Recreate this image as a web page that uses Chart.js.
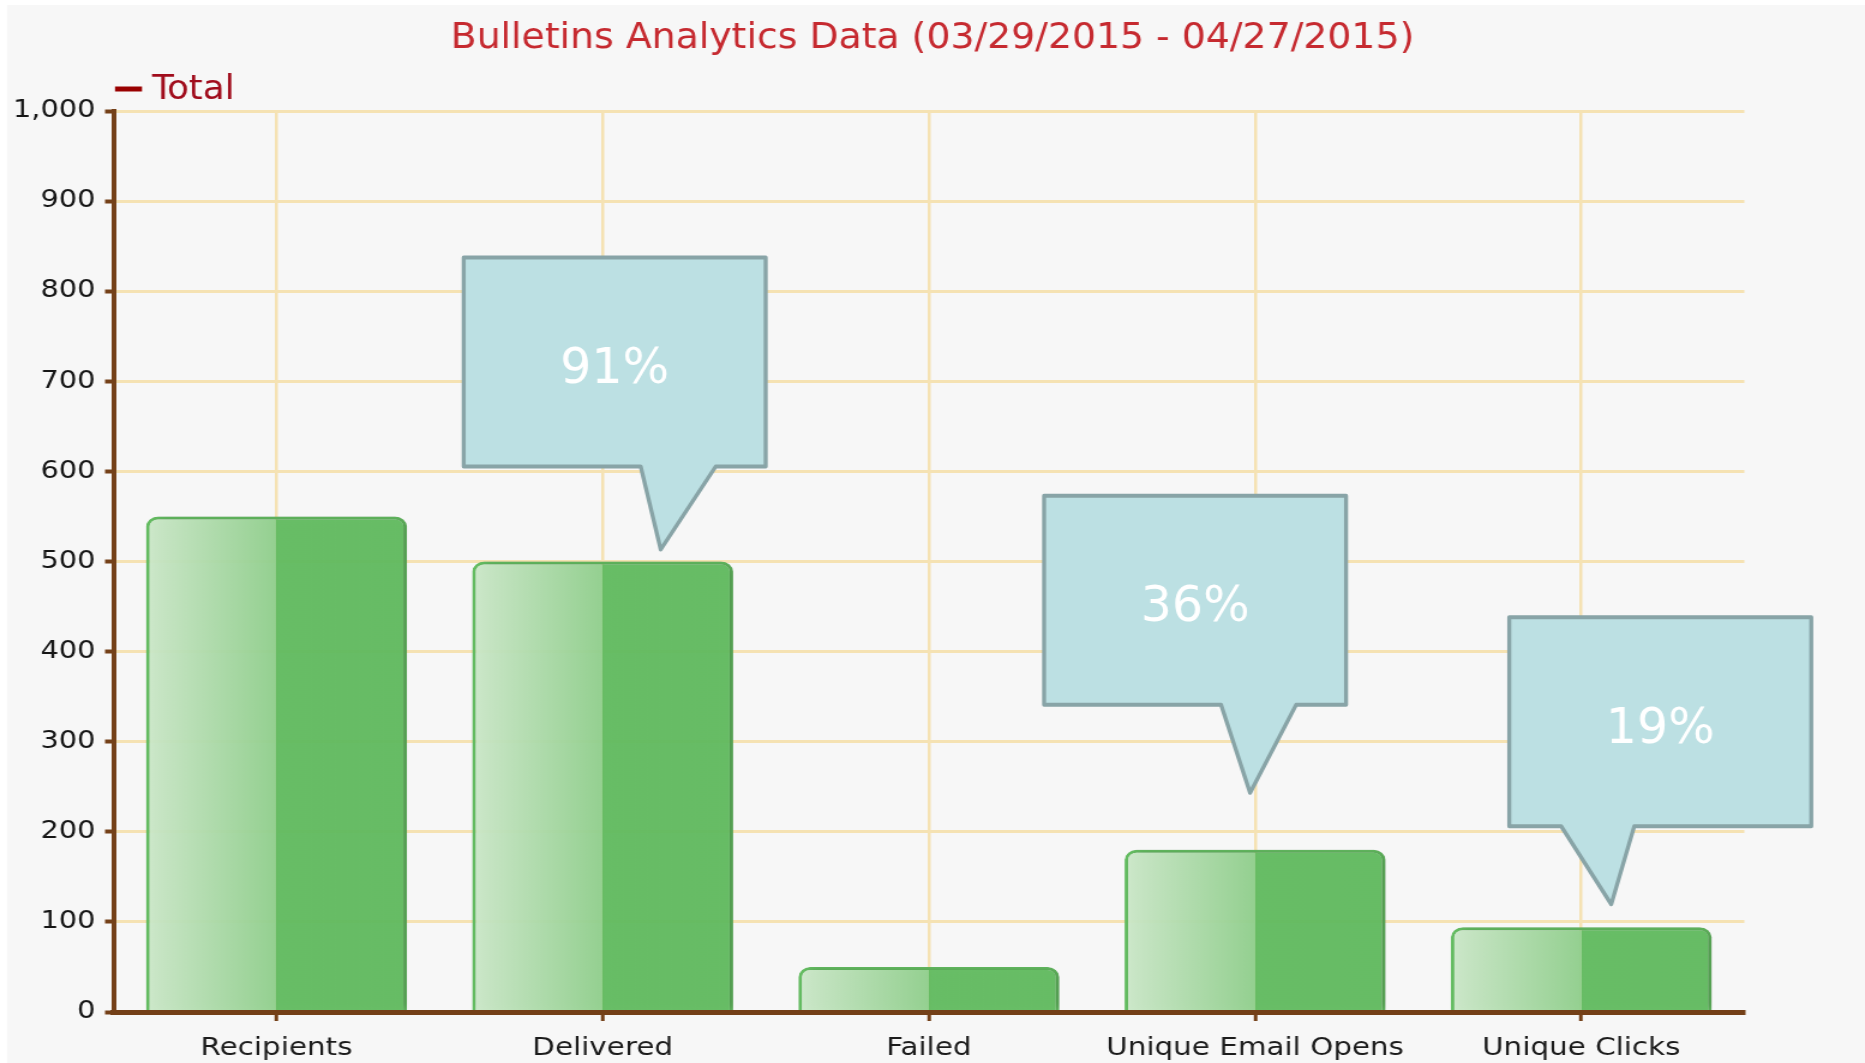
<!DOCTYPE html>
<html>
<head>
<meta charset="utf-8">
<title>Bulletins Analytics Data</title>
<script src="https://cdn.jsdelivr.net/npm/chart.js@4.4.1/dist/chart.umd.min.js"></script>
<style>
  html, body { margin: 0; padding: 0; background: #fff; overflow: hidden; }
  /* the source picture is stretched sideways, so the canvas is too */
  #wrap { position: absolute; left: 0; top: 0; width: 1554px; height: 1063px; transform: scaleX(1.2001); transform-origin: 0 0; }
</style>
</head>
<body>
<div id="wrap"><canvas id="bulletinChart"></canvas></div>
<script>
// Data
const categories = ["Recipients", "Delivered", "Failed", "Unique Email Opens", "Unique Clicks"];
const totals = [550, 500, 50, 180, 94];
const yTicksMax = 1000;
const yTickStep = 100;
const calloutIndex = [1, 3, 4];
const calloutText = ["91%", "36%", "19%"];

// Callout placement, in page pixels, relative to the top of the bar it points at
const calloutLayout = [
  { tipDx: 58, tipDy: -12, boxDx: -197, tailH: 83, tailL: -20, tailR: 55 },
  { tipDx: -5, tipDy: -57, boxDx: -206, tailH: 88, tailL: -29, tailR: 46 },
  { tipDx: 30, tipDy: -23, boxDx: -102, tailH: 78, tailL: -50, tailR: 23 }
];
const BOX_W = 302, BOX_H = 209;

const STRETCH = 1865 / 1554;
const BAR_PCT = 0.8;
const AXIS_BROWN = "#744018";
const GRID_TAN = "#f5e2b3";

function barFill(context) {
  const chart = context.chart;
  const xScale = chart.scales.x;
  if (!chart.chartArea || !xScale || context.dataIndex === undefined) return "#63bd61";
  const center = xScale.getPixelForValue(context.dataIndex);
  const half = xScale.width / categories.length * BAR_PCT / 2;
  const g = chart.ctx.createLinearGradient(center - half, 0, center + half, 0);
  g.addColorStop(0, "rgba(205,233,202,0.95)");
  g.addColorStop(0.5, "rgba(146,209,142,0.95)");
  g.addColorStop(0.5, "rgba(99,189,97,0.95)");
  g.addColorStop(1, "rgba(98,188,96,0.95)");
  return g;
}

const backgroundPlugin = {
  id: "pageBackground",
  beforeDraw(chart) {
    const ctx = chart.ctx;
    ctx.save();
    ctx.fillStyle = "#f7f7f7";
    ctx.fillRect(7 / STRETCH, 5, chart.width, chart.height);
    ctx.restore();
  }
};

const shadowPlugin = {
  id: "barShadow",
  beforeDatasetsDraw(chart) {
    const ctx = chart.ctx;
    ctx.save();
    ctx.shadowColor = "rgba(0,0,0,0.25)";
    ctx.shadowBlur = 8;
    ctx.shadowOffsetX = 4;
    ctx.shadowOffsetY = 0;
  },
  afterDatasetsDraw(chart) {
    chart.ctx.restore();
  }
};

const legendPlugin = {
  id: "lineLegend",
  afterDraw(chart) {
    const ctx = chart.ctx;
    const y = 89;
    ctx.save();
    ctx.strokeStyle = "#990000";
    ctx.lineWidth = 5;
    ctx.beginPath();
    ctx.moveTo(115 / STRETCH, y);
    ctx.lineTo(142 / STRETCH, y);
    ctx.stroke();
    ctx.fillStyle = "#a00c1c";
    ctx.font = "33px 'DejaVu Sans Condensed', 'DejaVu Sans', sans-serif";
    ctx.textBaseline = "middle";
    ctx.fillText(chart.data.datasets[0].label, 152 / STRETCH, y + 1);
    ctx.restore();
  }
};

const calloutPlugin = {
  id: "callouts",
  afterDraw(chart) {
    const ctx = chart.ctx;
    const bars = chart.getDatasetMeta(0).data;
    ctx.save();
    ctx.scale(1 / STRETCH, 1);
    calloutIndex.forEach((idx, i) => {
      const bar = bars[idx];
      const c = calloutLayout[i];
      const tipX = bar.x * STRETCH + c.tipDx;
      const tipY = bar.y + c.tipDy;
      const left = tipX + c.boxDx;
      const bottom = tipY - c.tailH;
      const top = bottom - BOX_H;
      ctx.beginPath();
      ctx.moveTo(left, top);
      ctx.lineTo(left + BOX_W, top);
      ctx.lineTo(left + BOX_W, bottom);
      ctx.lineTo(tipX + c.tailR, bottom);
      ctx.lineTo(tipX, tipY);
      ctx.lineTo(tipX + c.tailL, bottom);
      ctx.lineTo(left, bottom);
      ctx.closePath();
      ctx.fillStyle = "#bce0e3";
      ctx.fill();
      ctx.lineWidth = 4;
      ctx.lineJoin = "round";
      ctx.strokeStyle = "#88a4a7";
      ctx.stroke();
      ctx.fillStyle = "#ffffff";
      ctx.font = "49px 'DejaVu Sans', sans-serif";
      ctx.textAlign = "center";
      ctx.textBaseline = "middle";
      ctx.fillText(calloutText[i], left + BOX_W / 2, top + BOX_H / 2 + 8);
    });
    ctx.restore();
  }
};

const ctx = document.getElementById("bulletinChart").getContext("2d");
const bulletinChart = new Chart(ctx, {
  type: "bar",
  data: {
    labels: categories,
    datasets: [{
      label: "Total",
      data: totals,
      backgroundColor: barFill,
      borderColor: "#66c063",
      borderWidth: 3,
      borderSkipped: "bottom",
      borderRadius: { topLeft: 10, topRight: 10, bottomLeft: 0, bottomRight: 0 },
      barPercentage: BAR_PCT,
      categoryPercentage: 1
    }]
  },
  options: {
    responsive: true,
    maintainAspectRatio: false,
    devicePixelRatio: 1,
    animation: false,
    layout: { padding: { left: 0, right: 0, top: 0, bottom: 0 } },
    plugins: {
      legend: { display: false },
      tooltip: { enabled: false },
      title: {
        display: true,
        text: "Bulletins Analytics Data (03/29/2015 - 04/27/2015)",
        color: "#c62a30",
        font: { family: "'DejaVu Sans Condensed', 'DejaVu Sans', sans-serif", size: 35, weight: "normal" },
        padding: { top: 18, bottom: 51 }
      }
    },
    scales: {
      x: {
        grid: { offset: false, color: GRID_TAN, lineWidth: 2.5, tickColor: AXIS_BROWN, tickLength: 9, tickWidth: 3 },
        border: { color: AXIS_BROWN, width: 5, z: 1 },
        ticks: {
          color: "#1c1c1c",
          font: { family: "'DejaVu Sans', sans-serif", size: 24.5 },
          padding: 13,
          maxRotation: 0,
          autoSkip: false
        },
        afterFit(scale) { scale.height = 51; }
      },
      y: {
        min: 0,
        max: yTicksMax,
        grid: { color: GRID_TAN, lineWidth: 3, tickColor: AXIS_BROWN, tickLength: 7, tickWidth: 4 },
        border: { color: AXIS_BROWN, width: 4, z: 1 },
        ticks: {
          stepSize: yTickStep,
          color: "#161616",
          font: { family: "'DejaVu Sans', sans-serif", size: 24 },
          padding: 8
        },
        afterFit(scale) { scale.width = 94.5; }
      },
      yPad: {
        type: "linear",
        position: "right",
        grid: { display: false },
        border: { display: false },
        ticks: { display: false },
        afterFit(scale) { scale.width = 100.5; }
      }
    }
  },
  plugins: [backgroundPlugin, shadowPlugin, legendPlugin, calloutPlugin]
});
</script>
</body>
</html>
